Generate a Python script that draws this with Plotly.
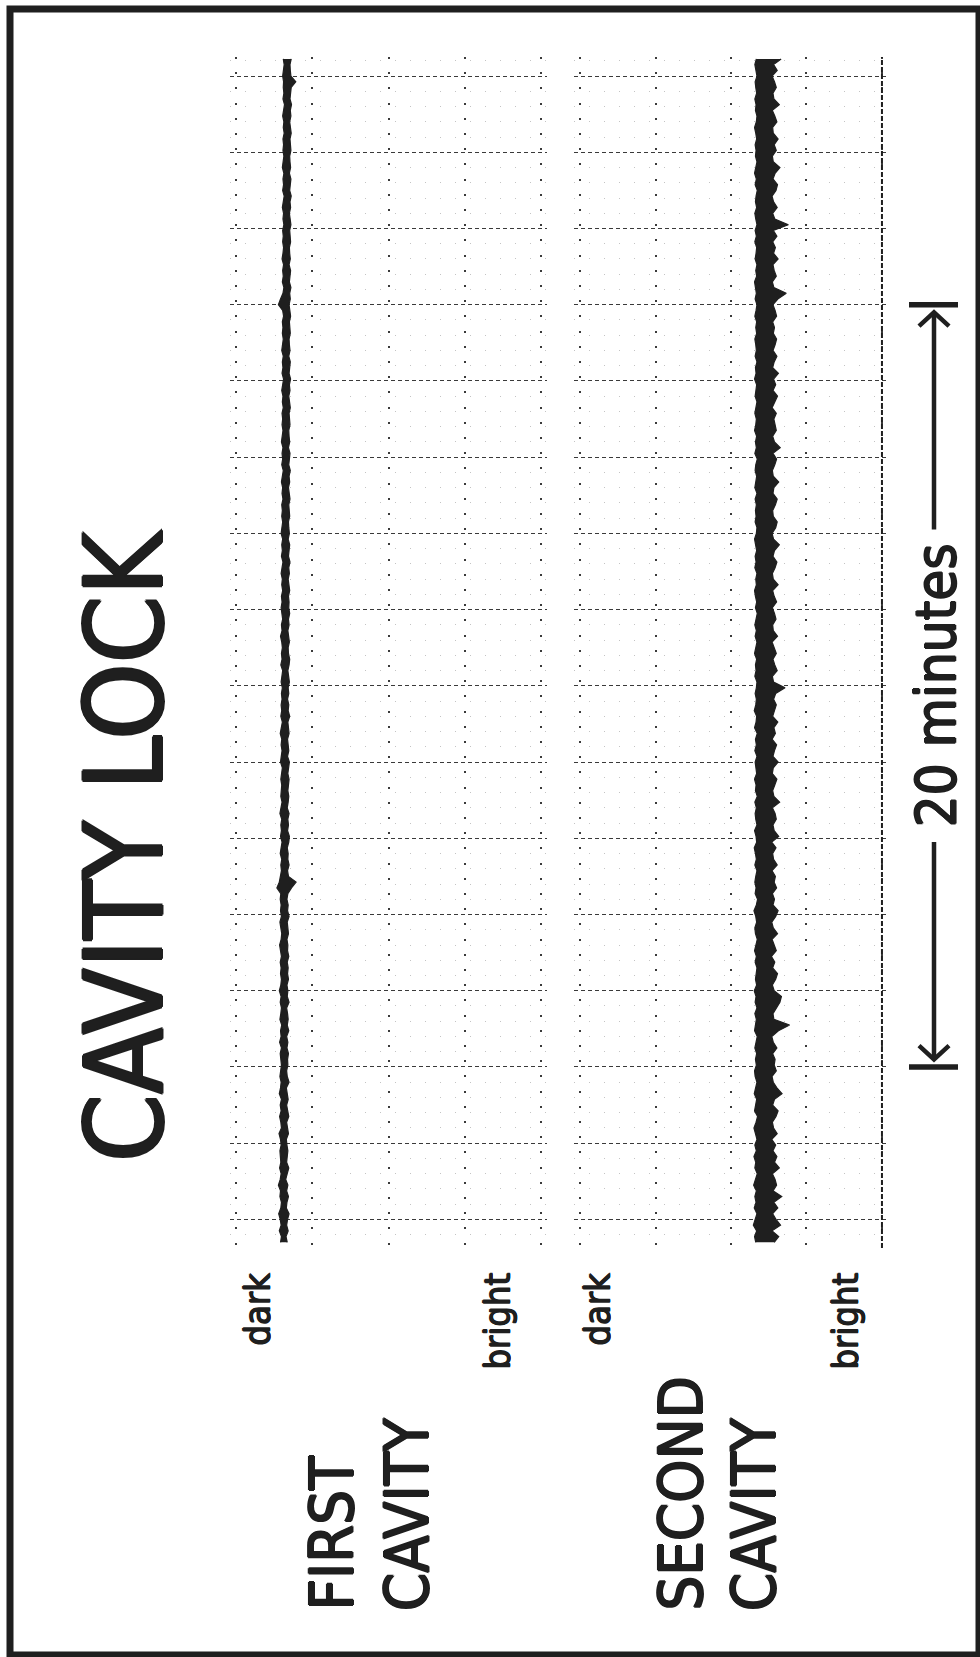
import plotly.graph_objects as go

W, H = 980, 1657

# Strip-chart record of the two cavity locks.
# Time in minutes (sampled every T_STEP from T_START); for each sample the
# low / high pen excursion in % of full scale (0 = dark edge, 100 = bright edge).
T_START = -0.6
T_STEP = 0.15

first_low = [
    14.6, 14.9, 14.2, 14.8, 14.5, 14.0, 14.7, 14.9, 14.4, 14.6, 13.9, 14.5, 14.8, 14.3, 14.7, 14.5,
    14.4, 14.8, 14.6, 14.1, 14.9, 14.7, 14.3, 14.8, 14.5, 14.9, 14.2, 14.6, 14.8, 14.4, 14.7, 14.9,
    14.7, 14.5, 14.9, 14.3, 14.8, 14.6, 15.0, 14.4, 14.7, 14.9, 14.5, 14.8, 14.2, 14.7, 14.9, 14.6,
    14.8, 14.5, 14.9, 14.6, 14.3, 14.8, 15.0, 14.7, 14.4, 14.9, 14.6, 14.8, 14.5, 14.7, 13.4, 14.2,
    14.6, 14.9, 14.7, 15.0, 14.5, 14.8, 15.1, 14.6, 14.9, 14.7, 15.0, 14.4, 14.8, 15.1, 14.7, 14.9,
    15.0, 14.7, 14.9, 15.2, 14.6, 14.9, 15.1, 14.8, 15.0, 14.5, 14.9, 15.2, 14.7, 15.0, 14.8, 15.1,
    14.9, 15.2, 14.8, 15.0, 15.3, 14.7, 15.1, 14.9, 15.2, 15.0, 14.6, 15.1, 14.9, 15.3, 15.0, 14.8,
    15.1, 14.9, 15.3, 15.0, 15.2, 14.8, 15.1, 15.4, 14.9, 15.2, 15.0, 15.3, 14.8, 15.1, 15.3, 15.0,
    15.2, 15.0, 15.4, 15.1, 15.3, 14.9, 15.2, 15.5, 15.0, 15.3, 15.1, 15.4, 14.9, 15.2, 15.4, 15.1,
    15.3, 15.1, 15.5, 15.2, 15.4, 15.0, 15.3, 15.6, 15.1, 15.4, 15.2, 15.5, 15.0, 15.3, 15.5, 15.2,
    15.4, 15.2, 15.6, 15.3, 13.9, 14.6, 15.4, 15.7, 15.2, 15.5, 15.3, 15.6, 15.1, 15.4, 15.6, 15.3,
    15.5, 15.3, 15.7, 15.4, 15.6, 15.2, 15.5, 15.8, 15.3, 15.6, 15.4, 15.7, 15.2, 15.5, 15.7, 15.4,
    15.6, 15.4, 15.8, 15.5, 15.7, 15.3, 15.6, 15.9, 15.4, 15.7, 15.5, 15.6, 15.3, 15.6, 15.8, 15.5,
]
first_high = [
    16.8, 16.4, 17.1, 16.6, 16.9, 17.4, 16.5, 16.7, 17.2, 16.6, 17.0, 16.3, 16.8, 17.3, 16.6, 16.9,
    17.0, 16.7, 16.5, 17.2, 16.8, 16.6, 17.3, 16.9, 16.6, 17.1, 16.7, 16.5, 17.4, 16.8, 16.6, 17.0,
    16.9, 17.2, 16.7, 17.0, 16.6, 17.3, 16.8, 17.1, 16.9, 16.6, 17.4, 16.8, 17.0, 16.7, 17.2, 16.9,
    17.1, 16.8, 17.3, 16.9, 17.0, 16.7, 17.2, 17.0, 16.8, 17.4, 16.9, 17.1, 16.7, 17.0, 18.2, 19.7,
    17.2, 16.9, 17.4, 17.0, 17.1, 16.8, 17.3, 17.5, 16.9, 17.2, 17.0, 17.4, 16.8, 17.1, 17.3, 17.0,
    17.1, 17.4, 17.0, 17.2, 17.5, 16.9, 17.3, 17.1, 16.9, 17.4, 17.2, 17.0, 17.6, 17.1, 17.3, 16.9,
    17.3, 17.1, 17.5, 17.2, 17.0, 17.4, 17.6, 17.2, 17.1, 17.5, 17.3, 17.0, 17.4, 17.2, 17.6, 17.3,
    17.4, 17.2, 17.6, 17.3, 17.1, 17.5, 17.3, 17.7, 17.2, 17.4, 17.6, 17.1, 17.5, 17.3, 17.2, 17.6,
    17.5, 17.3, 17.7, 17.4, 17.2, 17.6, 17.4, 17.8, 17.3, 17.5, 17.7, 17.2, 17.6, 17.4, 17.3, 17.7,
    17.6, 17.4, 17.8, 17.5, 17.3, 17.7, 17.5, 17.9, 17.4, 17.6, 17.8, 17.3, 17.7, 17.5, 17.4, 17.8,
    17.7, 17.5, 17.9, 17.6, 17.4, 17.8, 17.6, 18.0, 17.5, 17.7, 17.9, 17.4, 17.8, 17.6, 17.5, 17.9,
    17.8, 17.6, 18.0, 17.7, 17.5, 17.9, 17.7, 18.1, 17.6, 17.8, 18.0, 17.5, 17.9, 17.7, 17.6, 18.0,
    17.9, 17.7, 18.1, 17.8, 17.6, 18.0, 17.8, 18.2, 17.7, 17.9, 18.1, 19.6, 18.0, 17.8, 17.7, 18.1,
]

second_low = [
    58.2, 57.8, 58.5, 57.4, 58.0, 58.6, 57.7, 58.3, 57.9, 58.4, 57.5, 58.1, 58.7, 57.9, 58.2, 57.6,
    58.4, 57.9, 58.6, 58.1, 57.6, 58.3, 58.8, 57.8, 58.2, 58.5, 57.7, 58.1, 58.6, 58.0, 57.8, 58.4,
    58.1, 58.5, 57.9, 58.3, 58.7, 57.8, 58.2, 58.4, 57.9, 58.6, 58.0, 58.3, 57.7, 58.5, 58.1, 58.4,
    58.6, 58.0, 58.4, 57.8, 58.3, 58.7, 58.1, 57.9, 58.5, 58.2, 57.6, 58.4, 58.8, 58.0, 58.3, 57.9,
    58.2, 58.6, 57.9, 58.4, 58.1, 57.7, 58.5, 58.3, 57.8, 58.6, 58.2, 58.0, 58.4, 57.9, 58.7, 58.1,
    58.3, 57.8, 58.5, 58.2, 58.0, 58.6, 57.9, 58.4, 58.1, 58.7, 57.8, 58.3, 58.5, 57.7, 58.2, 58.4,
    58.0, 58.4, 58.6, 57.9, 58.3, 58.1, 58.5, 57.8, 58.2, 58.6, 58.0, 58.4, 57.9, 58.3, 58.7, 58.1,
    58.5, 58.1, 57.8, 58.4, 58.2, 58.6, 57.9, 58.3, 58.0, 58.5, 58.2, 57.8, 58.4, 58.6, 58.0, 58.3,
    58.1, 58.4, 58.0, 58.6, 57.9, 58.3, 58.5, 58.0, 58.2, 58.7, 57.9, 58.4, 58.1, 58.5, 57.8, 58.2,
    58.4, 57.9, 58.3, 58.6, 58.0, 58.2, 58.5, 57.8, 58.3, 58.1, 58.6, 58.0, 58.4, 58.2, 57.9, 58.5,
    58.2, 58.5, 57.9, 58.3, 58.6, 58.0, 58.4, 58.1, 57.8, 58.5, 58.2, 58.6, 58.0, 58.3, 58.5, 57.9,
    58.4, 58.0, 58.6, 58.2, 57.9, 58.5, 58.1, 58.3, 58.7, 58.0, 58.4, 57.8, 58.2, 58.6, 58.1, 58.3,
    58.0, 58.5, 58.2, 57.8, 58.4, 58.6, 58.1, 58.3, 57.9, 58.5, 58.2, 58.0, 58.6, 58.3, 57.9, 58.4,
]
second_high = [
    64.3, 65.8, 63.6, 66.4, 64.9, 63.8, 65.5, 64.2, 66.8, 63.9, 65.1, 64.6, 63.7, 66.0, 64.4, 65.2,
    63.9, 64.8, 63.5, 65.3, 64.1, 63.7, 64.9, 65.6, 63.8, 64.4, 66.9, 65.2, 64.0, 63.6, 65.0, 64.3,
    64.6, 63.8, 65.2, 64.0, 63.5, 65.7, 69.4, 64.2, 63.9, 65.1, 66.2, 66.7, 64.3, 63.7, 64.8, 65.4,
    63.8, 64.5, 63.4, 65.0, 64.2, 63.6, 65.4, 64.0, 63.5, 64.8, 65.6, 63.9, 64.4, 63.7, 65.1, 64.3,
    64.7, 63.6, 65.3, 64.1, 63.8, 64.9, 63.5, 65.8, 64.3, 63.9, 65.0, 64.6, 63.7, 66.1, 64.2, 63.8,
    64.5, 65.2, 63.7, 64.0, 65.6, 63.9, 64.4, 65.1, 63.6, 64.7, 64.2, 65.5, 63.8, 64.3, 65.0, 64.1,
    64.8, 67.9, 64.1, 63.7, 65.3, 64.5, 63.9, 65.0, 64.2, 63.6, 65.4, 64.0, 63.8, 64.9, 64.4, 63.7,
    65.1, 64.3, 63.8, 65.6, 64.0, 63.7, 64.6, 65.2, 63.9, 64.4, 66.0, 64.1, 63.6, 64.8, 65.3, 64.0,
    63.8, 64.7, 65.3, 63.9, 64.2, 65.8, 64.0, 63.7, 64.5, 65.1, 63.9, 66.3, 64.4, 63.8, 65.0, 64.6,
    64.2, 65.0, 63.6, 64.5, 65.4, 63.9, 64.8, 64.1, 65.7, 63.8, 64.3, 65.2, 63.9, 64.6, 65.1, 64.0,
    64.4, 63.8, 65.1, 64.6, 63.9, 65.5, 68.3, 64.2, 63.7, 65.0, 64.3, 63.9, 65.6, 64.1, 64.7, 63.8,
    65.2, 64.0, 69.0, 64.5, 63.8, 65.3, 64.1, 63.6, 64.9, 65.4, 63.9, 64.6, 66.2, 64.0, 63.7, 65.0,
    64.3, 65.6, 64.0, 63.8, 65.2, 64.5, 63.7, 66.0, 64.2, 63.9, 65.0, 64.4, 63.6, 65.3, 64.1, 66.6,
]

TITLE = "CAVITY LOCK"
CHANNEL_NAMES = [("FIRST", "CAVITY"), ("SECOND", "CAVITY")]
END_LABELS = ("dark", "bright")
SCALE_BAR = (4, 24)          # minutes spanned by the scale arrow
SCALE_LABEL = "20 minutes"
MAJOR_MIN = 2                # chart paper major division, minutes
MINOR_MIN = 0.4              # chart paper minor division, minutes
DIVISIONS = [0, 25, 50, 75, 100]

times = [round(T_START + i * T_STEP, 3) for i in range(len(first_low))]

INK = "#1f1f1f"
GRID = "#3a3a3a"
FONT = "DejaVu Sans Condensed, DejaVu Sans, sans-serif"


def px(x):
    return x / W


def py(y):
    return 1 - y / H


def halo(w):
    # thickens the glyph strokes a little (demi-bold lettering)
    return ", ".join(f"{dx}px {dy}px 0 {INK}" for dx, dy in
                     ((w, 0), (-w, 0), (0, w), (0, -w)))


Y_RANGE = [-0.75, 30.5]
Y_DOMAIN = [py(1248), py(57)]
X1_DOMAIN = [px(229.9), px(547.1)]
X2_DOMAIN = [px(574.0), px(888.0)]

fig = go.Figure()
# pen ink: band between the low and high excursion of each channel
for low, high, xa in ((first_low, first_high, "x"), (second_low, second_high, "x2")):
    fig.add_trace(go.Scatter(x=low, y=times, mode="lines", xaxis=xa, yaxis="y",
                             line=dict(color=INK, width=1.2), hoverinfo="skip",
                             showlegend=False))
    fig.add_trace(go.Scatter(x=high, y=times, mode="lines", xaxis=xa, yaxis="y",
                             fill="tonextx", fillcolor=INK,
                             line=dict(color=INK, width=1.2), hoverinfo="skip",
                             showlegend=False))

xcommon = dict(range=[-2, 102], tickvals=DIVISIONS, showticklabels=False, ticks="",
               showgrid=True, gridcolor=GRID, gridwidth=2, griddash="2px,13.2px",
               zeroline=False, showline=False, anchor="y", fixedrange=True)

fig.update_layout(
    width=W, height=H, margin=dict(l=0, r=0, t=0, b=0),
    paper_bgcolor="white", plot_bgcolor="white",
    xaxis=dict(domain=X1_DOMAIN, **xcommon),
    xaxis2=dict(domain=X2_DOMAIN, **xcommon),
    yaxis=dict(domain=Y_DOMAIN, range=Y_RANGE, tick0=0, dtick=MAJOR_MIN,
               showticklabels=False, ticks="", showgrid=True, gridcolor=GRID,
               gridwidth=1.2, griddash="4px,3px", zeroline=False, showline=False,
               anchor="x", fixedrange=True,
               minor=dict(tick0=0, dtick=MINOR_MIN, showgrid=True, gridcolor="#c4c4c4",
                          gridwidth=1, griddash="1px,14px")),
    font=dict(family=FONT, color=INK),
)

shapes = []
# page frame
shapes.append(dict(type="rect", xref="paper", yref="paper", x0=px(10), x1=px(979),
                   y0=py(1655), y1=py(9), line=dict(color=INK, width=7)))
# bright edge of the second channel
shapes.append(dict(type="line", xref="x2", yref="y", x0=100, x1=100, y0=Y_RANGE[0], y1=Y_RANGE[1],
                   line=dict(color=INK, width=2, dash="5px,2px")))

# 20-minute scale arrow
s0, s1 = SCALE_BAR
mid = (s0 + s1) / 2
gap = 4.1
xc, xl, xr = px(934), px(919), px(949)
for end, inner, sgn in ((s1, mid + gap, 1), (s0, mid - gap, -1)):
    shapes.append(dict(type="line", xref="paper", yref="y", x0=px(909), x1=px(958),
                       y0=end, y1=end, line=dict(color=INK, width=5.5)))
    tip = end - sgn * 0.2
    shapes.append(dict(type="line", xref="paper", yref="y", x0=xc, x1=xc,
                       y0=inner, y1=tip, line=dict(color=INK, width=4.5)))
    wing = tip - sgn * 0.36
    shapes.append(dict(type="path", xref="paper", yref="y",
                       path=f"M{xl},{wing} L{xc},{tip} L{xr},{wing}",
                       line=dict(color=INK, width=4.5)))
fig.update_layout(shapes=shapes)

ann = []


def label(text, x, y, size, thick, yanchor="middle", yref="paper"):
    ann.append(dict(text=text, x=px(x), y=y, xref="paper", yref=yref,
                    showarrow=False, textangle=-90, xanchor="center", yanchor=yanchor,
                    font=dict(size=size, family=FONT, color=INK, shadow=halo(thick))))


label(TITLE, 124.5, py(845.5), 108, 1.4)
label(SCALE_LABEL, 935.5, mid, 56, 0.9, yref="y")

# channel names
label(CHANNEL_NAMES[0][0], 331, py(1613), 61, 1.0, yanchor="bottom")
label(CHANNEL_NAMES[0][1], 406.5, py(1613), 61, 1.0, yanchor="bottom")
label(CHANNEL_NAMES[1][0], 679.5, py(1613), 61, 1.0, yanchor="bottom")
label(CHANNEL_NAMES[1][1], 753.5, py(1613), 61, 1.0, yanchor="bottom")

# scale-end labels for each channel
for xd, xb in ((257, 497), (597, 845)):
    label(END_LABELS[0], xd, py(1271), 36, 0.7, yanchor="top")
    label(END_LABELS[1], xb, py(1271), 36, 0.7, yanchor="top")

fig.update_layout(annotations=ann)

fig.write_html("out.html")
